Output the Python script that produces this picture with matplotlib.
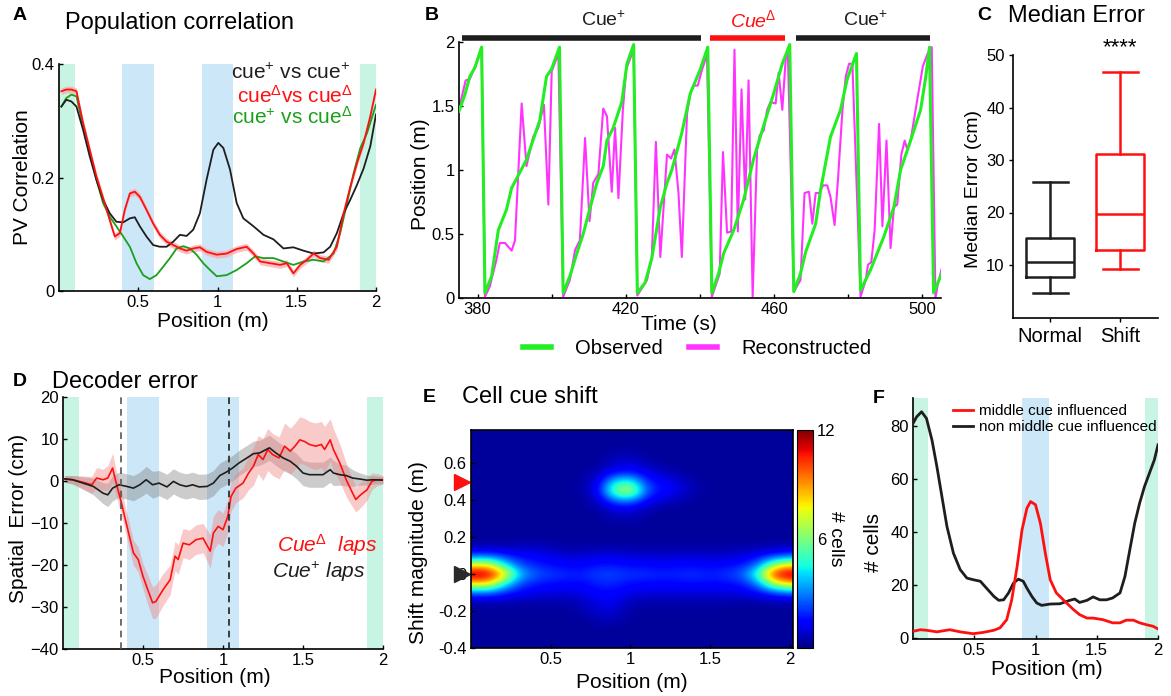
import matplotlib
matplotlib.use('Agg')
import numpy as np
import matplotlib.pyplot as plt
from matplotlib import transforms

plt.rcParams['font.family'] = ['Liberation Sans', 'DejaVu Sans']
plt.rcParams['mathtext.fontset'] = 'custom'
plt.rcParams['mathtext.rm'] = 'Liberation Sans'
plt.rcParams['mathtext.it'] = 'Liberation Sans:italic'
plt.rcParams['mathtext.bf'] = 'Liberation Sans:bold'
plt.rcParams['axes.linewidth'] = 1.2

# ---------------- data ----------------
# A: population vector correlation
a_black_x = [0.015, 0.046, 0.078, 0.11, 0.152, 0.194, 0.236, 0.278, 0.32, 0.362, 0.405, 0.447, 0.478, 0.51, 0.552,
             0.594, 0.636, 0.679, 0.721, 0.763, 0.805, 0.847, 0.889, 0.931, 0.974, 1.005, 1.037, 1.079, 1.121, 1.163,
             1.227, 1.29, 1.353, 1.416, 1.479, 1.543, 1.606, 1.669, 1.711, 1.753, 1.796, 1.838, 1.88, 1.922, 1.964, 2.0]
a_black_y = [0.325, 0.337, 0.334, 0.325, 0.284, 0.237, 0.196, 0.161, 0.137, 0.122, 0.121, 0.128, 0.130, 0.114, 0.096,
             0.081, 0.078, 0.078, 0.087, 0.099, 0.097, 0.108, 0.137, 0.196, 0.249, 0.261, 0.252, 0.214, 0.155, 0.128,
             0.114, 0.099, 0.091, 0.075, 0.077, 0.071, 0.066, 0.068, 0.078, 0.102, 0.137, 0.161, 0.187, 0.216, 0.255, 0.311]
a_red_x = [0.015, 0.046, 0.078, 0.11, 0.152, 0.194, 0.236, 0.278, 0.32, 0.352, 0.384, 0.415, 0.447, 0.478, 0.51,
           0.552, 0.594, 0.636, 0.679, 0.721, 0.763, 0.805, 0.847, 0.889, 0.931, 0.995, 1.058, 1.121, 1.184, 1.227,
           1.269, 1.332, 1.395, 1.437, 1.479, 1.522, 1.564, 1.606, 1.648, 1.701, 1.753, 1.796, 1.838, 1.88, 1.922,
           1.964, 2.0]
a_red_y = [0.352, 0.355, 0.355, 0.352, 0.296, 0.249, 0.202, 0.164, 0.125, 0.096, 0.102, 0.143, 0.172, 0.175, 0.166,
           0.143, 0.119, 0.099, 0.087, 0.081, 0.075, 0.071, 0.075, 0.077, 0.069, 0.064, 0.066, 0.074, 0.078, 0.066,
           0.052, 0.049, 0.046, 0.049, 0.031, 0.046, 0.055, 0.066, 0.058, 0.055, 0.078, 0.137, 0.184, 0.225, 0.261,
           0.308, 0.355]
a_red_sem = 0.006
a_green_x = [0.015, 0.046, 0.078, 0.11, 0.152, 0.194, 0.236, 0.278, 0.32, 0.362, 0.405, 0.447, 0.489, 0.531, 0.573,
             0.615, 0.658, 0.7, 0.742, 0.784, 0.826, 0.868, 0.91, 0.953, 0.995, 1.058, 1.121, 1.184, 1.237, 1.29,
             1.353, 1.416, 1.479, 1.543, 1.606, 1.669, 1.732, 1.774, 1.817, 1.859, 1.901, 1.943, 2.0]
a_green_y = [0.325, 0.34, 0.346, 0.343, 0.29, 0.243, 0.196, 0.155, 0.131, 0.114, 0.096, 0.078, 0.049, 0.028, 0.021,
             0.028, 0.043, 0.058, 0.075, 0.079, 0.075, 0.064, 0.049, 0.037, 0.026, 0.028, 0.037, 0.049, 0.061, 0.058,
             0.058, 0.052, 0.046, 0.052, 0.055, 0.052, 0.066, 0.102, 0.155, 0.208, 0.252, 0.278, 0.328]

# cue zones on the track (m)
end_zones = [(0.0, 0.1), (1.9, 2.0)]
mid_zones = [(0.4, 0.6), (0.9, 1.1)]

# B: observed vs reconstructed position
obs_t = [375.0, 376.6, 377.9, 379.3, 381.1, 382.0, 383.8, 385.6, 387.8, 389.2, 393.2, 396.8, 398.6, 400.0, 402.1,
         403.1, 404.9, 406.8, 408.5, 410.4, 412.2, 413.9, 414.9, 416.6, 418.9, 420.3, 422.1, 423.1, 425.2, 427.0,
         429.3, 431.1, 432.4, 435.1, 437.4, 440.0, 442.1, 443.2, 445.0, 446.4, 449.1, 451.8, 454.5, 457.2, 459.9,
         462.2, 464.2, 465.3, 467.1, 468.5, 471.2, 472.5, 475.2, 477.9, 479.7, 482.2, 483.3, 486.0, 489.6, 492.3,
         494.1, 496.8, 499.5, 500.9, 501.9, 503.0, 505.2]
obs_pos = [1.46, 1.59, 1.73, 1.80, 1.96, 0.04, 0.17, 0.53, 0.69, 0.86, 1.08, 1.39, 1.73, 1.79, 1.96,
           0.04, 0.17, 0.35, 0.50, 0.71, 0.90, 1.03, 1.23, 1.33, 1.53, 1.83, 1.98, 0.04, 0.12, 0.31,
           0.71, 0.90, 1.00, 1.29, 1.60, 1.78, 1.96, 0.04, 0.19, 0.35, 0.53, 0.77, 1.09, 1.35, 1.60,
           1.83, 1.98, 0.05, 0.19, 0.36, 0.58, 0.84, 1.26, 1.47, 1.71, 1.91, 0.06, 0.22, 0.48, 0.71,
           1.00, 1.23, 1.47, 1.73, 1.96, 0.04, 0.19]
rec_t = [375.0, 376.8, 377.9, 380.6, 381.1, 382.0, 383.3, 385.1, 386.0, 387.4, 389.2, 390.1, 391.9, 393.2, 395.0,
         396.4, 397.9, 399.1, 400.0, 401.8, 403.1, 404.9, 406.3, 407.6, 409.0, 410.2, 411.2, 412.6, 413.9, 414.9,
         416.2, 417.1, 418.0, 419.2, 420.1, 422.1, 423.1, 425.7, 427.0, 428.1, 429.3, 431.1, 432.2, 433.1, 434.2,
         435.1, 436.5, 437.4, 438.3, 439.4, 440.5, 441.9, 443.2, 445.3, 446.2, 447.3, 448.4, 449.3, 450.2, 451.2,
         452.2, 453.1, 454.2, 455.4, 456.1, 457.2, 458.1, 459.0, 460.4, 461.2, 462.2, 463.1, 463.7, 465.3, 467.1,
         468.2, 469.4, 470.3, 471.2, 472.2, 473.2, 474.3, 475.2, 476.3, 477.2, 478.4, 479.3, 480.2, 481.1, 483.3,
         484.7, 485.3, 486.2, 487.1, 488.3, 489.2, 490.3, 491.4, 492.3, 493.2, 494.3, 495.2, 495.9, 496.8, 498.6,
         500.1, 501.4, 502.5, 503.5, 504.1, 505.2]
rec_pos = [1.48, 1.70, 1.71, 1.90, 1.94, 0.01, 0.09, 0.30, 0.43, 0.43, 0.37, 0.45, 1.52, 1.03, 1.26,
           1.33, 1.51, 0.73, 1.77, 1.91, 0.01, 0.14, 0.375, 0.45, 1.25, 0.60, 0.90, 0.97, 1.48, 1.42,
           0.83, 1.33, 0.78, 1.47, 1.79, 1.94, 0.02, 0.14, 0.32, 1.22, 0.32, 1.12, 1.09, 1.16, 0.82,
           0.32, 1.44, 1.60, 1.66, 1.66, 1.78, 1.90, 0.01, 0.19, 1.14, 0.51, 0.52, 1.94, 0.52, 1.63,
           0.77, 1.70, 0.01, 1.16, 1.27, 1.31, 1.47, 1.53, 1.52, 1.76, 1.47, 1.86, 1.91, 0.05, 0.14,
           0.82, 0.83, 0.58, 0.82, 0.82, 0.88, 0.88, 0.79, 0.57, 0.92, 1.46, 1.73, 1.83, 1.83, 0.01,
           0.14, 0.26, 0.28, 0.53, 1.36, 0.56, 1.23, 0.39, 0.71, 0.73, 1.12, 1.23, 1.16, 1.23, 1.55,
           1.81, 1.91, 1.96, 0.0, 0.1, 0.23]
block_spans = [(375.7, 440.3), (442.6, 462.9), (465.8, 502.1)]
block_labels = ['Cue$^{+}$', 'Cue$^{\\Delta}$', 'Cue$^{+}$']
block_label_t = [414.0, 454.3, 484.7]

# C: median error box plots (cm)
box_names = ['Normal', 'Shift']
box_whislo = [4.7, 9.2]
box_q1 = [7.7, 12.9]
box_med = [10.6, 19.7]
box_q3 = [15.2, 31.2]
box_whishi = [25.8, 46.7]

# D: decoder spatial error (cm)
d_black_x = [0.01, 0.06, 0.125, 0.19, 0.25, 0.28, 0.31, 0.35, 0.40, 0.44, 0.48, 0.52, 0.56, 0.60, 0.65, 0.69,
             0.73, 0.77, 0.81, 0.85, 0.90, 0.94, 0.98, 1.02, 1.06, 1.10, 1.15, 1.19, 1.23, 1.27, 1.29, 1.33,
             1.375, 1.42, 1.46, 1.50, 1.54, 1.58, 1.625, 1.67, 1.69, 1.73, 1.77, 1.81, 1.85, 1.90, 1.94, 2.0]
d_black_y = [0.5, 0.3, -0.5, -1.3, -2.9, -3.3, -1.7, -0.9, -1.3, -1.7, -0.9, 0.3, -0.9, -0.5, -1.4, -0.1,
             -0.9, -1.3, -0.9, -1.4, -1.3, -0.5, 1.3, 2.1, 3.1, 4.3, 5.5, 6.5, 6.7, 7.5, 7.9, 6.7,
             5.5, 4.7, 3.5, 1.9, 1.5, 1.5, 1.5, 2.7, 1.9, 1.5, 1.3, 0.7, 0.5, 0.2, 0.3, 0.2]
d_black_sem = [0.8, 1.0, 1.5, 2.0, 2.5, 2.8, 3.0, 3.0, 3.0, 3.0, 3.0, 3.2, 3.2, 3.0, 3.0, 3.0,
               3.0, 3.0, 3.0, 3.0, 3.0, 3.0, 3.0, 3.0, 3.0, 3.0, 3.0, 3.0, 3.0, 3.0, 3.0, 3.0,
               3.0, 3.0, 3.0, 3.0, 3.0, 3.0, 3.0, 3.0, 3.0, 2.5, 2.5, 2.0, 1.5, 1.2, 1.0, 0.8]
d_red_x = [0.01, 0.06, 0.125, 0.18, 0.21, 0.25, 0.28, 0.31, 0.33, 0.365, 0.40, 0.44, 0.47, 0.50, 0.53,
           0.56, 0.58, 0.625, 0.67, 0.70, 0.72, 0.75, 0.79, 0.83, 0.875, 0.92, 0.94, 0.97, 1.0, 1.03,
           1.05, 1.08, 1.125, 1.16, 1.19, 1.22, 1.25, 1.28, 1.31, 1.35, 1.385, 1.42, 1.45, 1.48, 1.51,
           1.54, 1.58, 1.615, 1.635, 1.67, 1.69, 1.73, 1.77, 1.80, 1.83, 1.86, 1.90, 1.93, 1.96, 2.0]
d_red_y = [0.5, 0.3, -0.3, -0.9, 0.7, 0.3, 0.7, 3.1, -0.1, -5.2, -10.8, -17.1, -18.7, -22.7, -25.9,
           -29.0, -28.7, -25.9, -23.5, -17.9, -18.7, -14.8, -15.2, -14.0, -13.6, -16.7, -12.4, -10.8, -11.6, -8.4,
           -3.7, -1.7, -0.5, 1.9, 3.5, 6.3, 5.1, 7.5, 6.3, 5.5, 8.3, 7.1, 8.3, 9.8, 9.4,
           8.7, 8.3, 8.7, 7.5, 9.8, 7.5, 4.3, 0.3, -2.1, -4.4, -3.3, -2.1, -0.1, 0.3, 0.3]
d_red_sem = [0.8, 1.0, 1.5, 2.0, 2.5, 2.5, 3.0, 3.5, 3.0, 3.0, 3.0, 3.0, 3.0, 3.0, 3.5,
             3.8, 4.0, 3.8, 3.5, 3.5, 3.5, 3.5, 3.5, 3.5, 3.5, 4.0, 4.0, 4.0, 4.0, 4.0,
             3.5, 3.5, 3.5, 4.0, 4.5, 4.5, 5.0, 5.0, 5.0, 5.0, 5.5, 5.5, 5.5, 5.5, 5.5,
             5.5, 5.5, 5.5, 5.5, 5.0, 5.0, 4.5, 4.0, 3.5, 3.0, 3.0, 2.5, 2.0, 1.5, 1.0]
d_dashed_x = [0.36, 1.04]

# E: cell cue shift map (# cells); columns x = 0..2 m step 0.1, rows y = -0.4..0.8 m step 0.05
shift_pos = [0.0, 2.0]
shift_mag = [-0.4, 0.8]
shift_counts = [
    [0.3] * 21,  # -0.40
    [0.3] * 21,  # -0.35
    [0.3] * 21,  # -0.30
    [0.3, 0.3, 0.3, 0.3, 0.3, 0.3, 0.3, 0.3, 0.6, 0.6, 0.3, 0.3, 0.3, 0.3, 0.3, 0.3, 0.3, 0.3, 0.3, 0.3, 0.3],
    [0.3, 0.3, 0.3, 0.3, 0.3, 0.3, 0.3, 0.5, 0.9, 0.9, 0.4, 0.3, 0.3, 0.3, 0.3, 0.3, 0.3, 0.3, 0.3, 0.3, 0.3],
    [0.5, 0.5, 0.5, 0.5, 0.5, 0.5, 0.5, 0.7, 1.2, 1.2, 0.6, 0.5, 0.5, 0.5, 0.5, 0.5, 0.5, 0.4, 0.4, 0.5, 0.5],
    [2.5, 2.8, 2.0, 1.5, 1.2, 1.0, 1.0, 1.1, 1.5, 1.5, 1.1, 1.0, 1.0, 1.0, 1.0, 1.0, 1.0, 1.1, 1.5, 2.2, 2.7],
    [8.0, 8.5, 5.0, 2.4, 1.8, 1.6, 1.5, 1.5, 1.9, 1.9, 1.6, 1.5, 1.5, 1.5, 1.6, 1.5, 1.6, 1.8, 3.0, 7.0, 8.5],
    [12.0, 12.0, 9.0, 4.0, 2.6, 2.2, 2.0, 1.9, 2.3, 2.3, 2.1, 2.1, 1.9, 2.0, 2.1, 1.9, 2.1, 2.6, 5.0, 11.0, 12.0],
    [7.5, 8.0, 4.8, 2.4, 1.9, 1.6, 1.4, 1.4, 1.7, 1.7, 1.5, 1.5, 1.4, 1.5, 1.5, 1.4, 1.5, 1.7, 2.8, 6.5, 8.0],
    [2.3, 2.6, 2.0, 1.5, 1.4, 1.1, 0.9, 0.9, 1.1, 1.1, 0.9, 0.9, 0.8, 0.9, 0.9, 0.8, 0.9, 1.0, 1.4, 2.0, 2.5],
    [0.5, 0.5, 0.5, 0.6, 0.7, 0.5, 0.4, 0.4, 0.4, 0.4, 0.4, 0.4, 0.4, 0.4, 0.4, 0.4, 0.4, 0.4, 0.4, 0.5, 0.5],
    [0.3] * 21,  # 0.20
    [0.3] * 21,  # 0.25
    [0.3, 0.3, 0.3, 0.3, 0.3, 0.3, 0.3, 0.3, 0.3, 0.5, 0.6, 0.3, 0.3, 0.3, 0.3, 0.3, 0.3, 0.3, 0.3, 0.3, 0.3],
    [0.3, 0.3, 0.3, 0.3, 0.3, 0.3, 0.3, 0.3, 0.4, 0.9, 1.0, 0.6, 0.3, 0.3, 0.3, 0.3, 0.3, 0.3, 0.3, 0.3, 0.3],
    [0.3, 0.3, 0.3, 0.3, 0.3, 0.3, 0.3, 0.3, 0.8, 2.8, 3.2, 1.4, 0.9, 0.6, 0.3, 0.3, 0.3, 0.3, 0.3, 0.3, 0.3],
    [0.3, 0.3, 0.3, 0.3, 0.3, 0.3, 0.3, 0.4, 1.3, 6.0, 7.5, 2.5, 1.6, 1.1, 0.5, 0.3, 0.3, 0.3, 0.3, 0.3, 0.3],
    [0.3, 0.3, 0.3, 0.3, 0.3, 0.3, 0.3, 0.4, 1.1, 4.4, 5.0, 2.0, 1.4, 1.0, 0.5, 0.3, 0.3, 0.3, 0.3, 0.3, 0.3],
    [0.3, 0.3, 0.3, 0.3, 0.3, 0.3, 0.3, 0.3, 0.6, 1.5, 1.8, 1.1, 0.8, 0.4, 0.3, 0.3, 0.3, 0.3, 0.3, 0.3, 0.3],
    [0.3, 0.3, 0.3, 0.3, 0.3, 0.3, 0.3, 0.3, 0.3, 0.8, 1.0, 0.6, 0.3, 0.3, 0.3, 0.3, 0.3, 0.3, 0.3, 0.3, 0.3],
    [0.3, 0.3, 0.3, 0.3, 0.3, 0.3, 0.3, 0.3, 0.3, 0.5, 0.6, 0.3, 0.3, 0.3, 0.3, 0.3, 0.3, 0.3, 0.3, 0.3, 0.3],
    [0.3] * 21,  # 0.70
    [0.3] * 21,  # 0.75
    [0.3] * 21,  # 0.80
]
shift_markers = [0.5, 0.0]

# F: number of cells along the track
f_x = [0.0, 0.03, 0.07, 0.11, 0.155, 0.195, 0.236, 0.277, 0.33, 0.385, 0.44, 0.49, 0.55, 0.60, 0.66, 0.70,
       0.74, 0.78, 0.82, 0.86, 0.90, 0.93, 0.97, 1.01, 1.05, 1.12, 1.20, 1.28, 1.32, 1.36, 1.42, 1.47,
       1.525, 1.58, 1.63, 1.69, 1.73, 1.77, 1.81, 1.85, 1.89, 1.93, 1.97, 2.0]
f_black = [81.0, 83.5, 85.4, 82.9, 74.7, 64.7, 53.4, 42.1, 32.0, 25.8, 22.6, 22.0, 21.4, 18.8, 15.7, 14.2,
           14.4, 17.0, 20.7, 22.2, 21.4, 18.8, 15.7, 13.2, 12.3, 12.8, 12.9, 14.2, 14.7, 13.4, 14.2, 15.5,
           14.4, 14.4, 15.1, 17.0, 23.2, 33.3, 43.3, 50.9, 57.2, 62.2, 67.2, 72.9]
f_red_x = [0.0, 0.06, 0.11, 0.195, 0.30, 0.385, 0.49, 0.575, 0.66, 0.71, 0.765, 0.806, 0.85, 0.89, 0.93, 0.96,
           1.0, 1.04, 1.08, 1.12, 1.17, 1.24, 1.31, 1.36, 1.42, 1.47, 1.55, 1.63, 1.69, 1.74, 1.80, 1.85,
           1.905, 1.96, 2.0]
f_red = [2.5, 3.1, 2.9, 2.3, 3.1, 2.3, 1.6, 2.1, 2.9, 3.8, 6.9, 14.4, 27.0, 40.8, 49.0, 51.5,
         50.3, 43.3, 32.0, 22.0, 17.0, 13.8, 10.7, 8.8, 7.5, 7.5, 6.9, 5.7, 5.7, 6.7, 6.7, 5.7,
         5.0, 4.4, 3.4]
f_end_zones = [(0.0, 0.12), (1.89, 2.0)]
f_mid_zones = [(0.89, 1.11)]

# ---------------- layout ----------------
W, H = 1171, 696
END_C = '#c8f4e4'
MID_C = '#cce7f8'
BLACK = '#1e1e1e'
RED = '#ff1010'


def box(l, t, r, b):
    return [l / W, 1 - b / H, (r - l) / W, (b - t) / H]


def fx(px):
    return px / W


def fy(py):
    return 1 - py / H


def style_axes(ax, tick_dir='in'):
    ax.spines['top'].set_visible(False)
    ax.spines['right'].set_visible(False)
    ax.tick_params(direction=tick_dir, length=3, width=1, labelsize=12, pad=3)


def shade_zones(ax, ends, mids):
    for lo, hi in ends:
        ax.axvspan(lo, hi, color=END_C, lw=0, zorder=0)
    for lo, hi in mids:
        ax.axvspan(lo, hi, color=MID_C, lw=0, zorder=0)


fig = plt.figure(figsize=(W / 100, H / 100), dpi=100)

# ---------- A ----------
axA = fig.add_axes(box(59, 64, 376, 291))
style_axes(axA)
shade_zones(axA, end_zones, mid_zones)
axA.fill_between(a_red_x, np.array(a_red_y) - a_red_sem, np.array(a_red_y) + a_red_sem,
                 color='#f7a8a8', lw=0, alpha=0.7, zorder=1)
axA.plot(a_green_x, a_green_y, color='#1aa01a', lw=1.3, zorder=2)
axA.plot(a_black_x, a_black_y, color=BLACK, lw=1.3, zorder=3)
axA.plot(a_red_x, a_red_y, color=RED, lw=1.3, zorder=4)
axA.set_xlim(0, 2)
axA.set_ylim(0, 0.4)
axA.set_xticks([0.5, 1, 1.5, 2], ['0.5', '1', '1.5', '2'])
axA.set_yticks([0, 0.2, 0.4], ['0', '0.2', '0.4'])
axA.set_xlabel('Position (m)', fontsize=15, va='top')
axA.set_ylabel('PV Correlation', fontsize=15)
axA.xaxis.set_label_coords(0.486, -0.092)
axA.yaxis.set_label_coords(-0.085, 0.5)
fig.text(fx(350), fy(73), 'cue$^{+}$ vs cue$^{+}$', ha='right', va='center', fontsize=15, color=BLACK)
fig.text(fx(353), fy(96), 'cue$^{\\Delta}$vs cue$^{\\Delta}$', ha='right', va='center', fontsize=15, color=RED)
fig.text(fx(353), fy(117), 'cue$^{+}$ vs cue$^{\\Delta}$', ha='right', va='center', fontsize=15, color='#1aa01a')
fig.text(fx(13), fy(15), 'A', fontsize=14, fontweight='bold', va='center')
fig.text(fx(65), fy(23), 'Population correlation', fontsize=17, va='center')

# ---------- B ----------
axB = fig.add_axes(box(459, 42, 941, 298))
style_axes(axB)
axB.plot(rec_t, rec_pos, color='#ff33ff', lw=1.5, zorder=2)
axB.plot(obs_t, obs_pos, color='#22ee22', lw=2.2, zorder=3)
axB.set_xlim(375, 505)
axB.set_ylim(0, 2)
axB.set_xticks([380, 420, 460, 500])
axB.set_xticks([400, 440, 480], minor=True)
axB.tick_params(which='minor', direction='in', length=3, width=1)
axB.set_yticks([0, 0.5, 1, 1.5, 2], ['0', '0.5', '1', '1.5', '2'])
axB.set_xlabel('Time (s)', fontsize=15, va='top')
axB.set_ylabel('Position (m)', fontsize=15)
axB.xaxis.set_label_coords(0.457, -0.066)
axB.yaxis.set_label_coords(-0.06, 0.484)
trB = transforms.blended_transform_factory(axB.transData, axB.transAxes)
for (t0, t1), lab, tl, c in zip(block_spans, block_labels, block_label_t, [BLACK, RED, BLACK]):
    axB.plot([t0, t1], [1.017, 1.017], transform=trB, color=c, lw=4, clip_on=False,
             solid_capstyle='butt')
    axB.text(tl, 1.086, lab, transform=trB, ha='center', va='center', fontsize=14, color=c,
             fontstyle='italic' if c == RED else 'normal')
legB = fig.legend(handles=[plt.Line2D([], [], color='#22ee22', lw=4),
                           plt.Line2D([], [], color='#ff33ff', lw=4)],
                  labels=['Observed', 'Reconstructed'], loc='center', ncol=2,
                  bbox_to_anchor=(fx(697), fy(349)), frameon=False, fontsize=14.5,
                  handlelength=1.4, handletextpad=1.2, columnspacing=1.3, borderpad=0)
fig.text(fx(425), fy(15), 'B', fontsize=14, fontweight='bold', va='center')

# ---------- C ----------
axC = fig.add_axes(box(1013, 55, 1158, 317.5))
style_axes(axC, tick_dir='out')
stats = []
for i in range(len(box_names)):
    stats.append({'med': box_med[i], 'q1': box_q1[i], 'q3': box_q3[i],
                  'whislo': box_whislo[i], 'whishi': box_whishi[i], 'fliers': []})
for i, c in enumerate([BLACK, RED]):
    lp = dict(color=c, lw=1.8)
    axC.bxp([stats[i]], positions=[i + 1], widths=0.69, capwidths=0.5, showfliers=False,
            boxprops=lp, medianprops=lp, whiskerprops=lp, capprops=lp)
axC.set_xlim(0.47, 2.54)
axC.set_ylim(0, 50)
axC.set_yticks([10, 20, 30, 40, 50])
axC.set_xticks([1, 2], box_names)
axC.tick_params(axis='x', labelsize=14.5, pad=4)
axC.set_ylabel('Median Error (cm)', fontsize=14)
axC.yaxis.set_label_coords(-0.214, 0.49)
axC.text(2, 51.3, '****', ha='center', va='center', fontsize=16, clip_on=False)
fig.text(fx(977), fy(15), 'C', fontsize=14, fontweight='bold', va='center')
fig.text(fx(1008), fy(16), 'Median Error', fontsize=17, va='center')

# ---------- D ----------
axD = fig.add_axes(box(63, 397, 383, 649))
style_axes(axD)
shade_zones(axD, end_zones, mid_zones)
axD.fill_between(d_black_x, np.array(d_black_y) - d_black_sem, np.array(d_black_y) + d_black_sem,
                 color='#808080', alpha=0.4, lw=0, zorder=1)
axD.fill_between(d_red_x, np.array(d_red_y) - d_red_sem, np.array(d_red_y) + d_red_sem,
                 color='#f07c7c', alpha=0.4, lw=0, zorder=1)
axD.plot(d_red_x, d_red_y, color=RED, lw=1.2, zorder=3)
axD.plot(d_black_x, d_black_y, color=BLACK, lw=1.2, zorder=3)
for xd, c in zip(d_dashed_x, ['#555555', '#222222']):
    axD.axvline(xd, color=c, lw=1.2, ls=(0, (4, 3)), zorder=4)
axD.set_xlim(0, 2)
axD.set_ylim(-40, 20)
axD.set_xticks([0.5, 1, 1.5, 2], ['0.5', '1', '1.5', '2'])
axD.set_yticks([-40, -30, -20, -10, 0, 10, 20])
axD.set_xlabel('Position (m)', fontsize=15, va='top')
axD.set_ylabel('Spatial  Error (cm)', fontsize=15)
axD.xaxis.set_label_coords(0.475, -0.074)
axD.yaxis.set_label_coords(-0.109, 0.52)
fig.text(fx(277), fy(545), 'Cue$^{\\Delta}$  laps', color=RED, fontsize=15, fontstyle='italic', va='center')
fig.text(fx(272), fy(572), 'Cue$^{+}$ laps', color=BLACK, fontsize=15, fontstyle='italic', va='center')
fig.text(fx(13), fy(381), 'D', fontsize=14, fontweight='bold', va='center')
fig.text(fx(52), fy(382), 'Decoder error', fontsize=17, va='center')

# ---------- E ----------
axE = fig.add_axes(box(471, 430, 793, 648))
axE.tick_params(direction='in', length=3, width=1, labelsize=12, pad=3)
im = axE.imshow(np.array(shift_counts), origin='lower', cmap='jet', vmin=0, vmax=12,
                interpolation='bicubic', aspect='auto',
                extent=[shift_pos[0] - 0.05, shift_pos[1] + 0.05, shift_mag[0] - 0.025, shift_mag[1] + 0.025])
axE.set_xlim(0, 2.02)
axE.set_ylim(-0.4, 0.78)
axE.set_xticks([0.5, 1, 1.5, 2], ['0.5', '1', '1.5', '2'])
axE.set_yticks([-0.4, -0.2, 0, 0.2, 0.4, 0.6], ['-0.4', '-0.2', '0', '0.2', '0.4', '0.6'])
axE.set_xlabel('Position (m)', fontsize=15, va='top')
axE.set_ylabel('Shift magnitude (m)', fontsize=15)
axE.xaxis.set_label_coords(0.5, -0.115)
axE.yaxis.set_label_coords(-0.134, 0.436)
trE = transforms.blended_transform_factory(axE.transAxes, axE.transData)
for ym, c in zip(shift_markers, [RED, '#2a2a2a']):
    axE.plot([-0.028], [ym], marker='>', ms=11, color=c, transform=trE, clip_on=False, ls='none')
cax = fig.add_axes(box(797, 430, 813, 648))
cb = fig.colorbar(im, cax=cax, ticks=[6, 12])
cb.outline.set_linewidth(0.8)
cax.tick_params(length=0, labelsize=12, pad=3)
cb.set_label('# cells', fontsize=14, rotation=270, labelpad=6)
fig.text(fx(423), fy(397), 'E', fontsize=14, fontweight='bold', va='center')
fig.text(fx(462), fy(397), 'Cell cue shift', fontsize=17, va='center')

# ---------- F ----------
axF = fig.add_axes(box(913, 398, 1158, 639))
style_axes(axF)
shade_zones(axF, f_end_zones, f_mid_zones)
axF.plot(f_x, f_black, color=BLACK, lw=2, label='non middle cue influenced', zorder=3)
axF.plot(f_red_x, f_red, color=RED, lw=2, label='middle cue influenced', zorder=3)
axF.set_xlim(0, 2)
axF.set_ylim(-0.4, 90.6)
axF.set_xticks([0.5, 1, 1.5, 2], ['0.5', '1', '1.5', '2'])
axF.set_yticks([0, 20, 40, 60, 80])
axF.set_xlabel('Position (m)', fontsize=15, va='top')
axF.set_ylabel('# cells', fontsize=15)
axF.xaxis.set_label_coords(0.547, -0.087)
axF.yaxis.set_label_coords(-0.122, 0.40)
h, l = axF.get_legend_handles_labels()
axF.legend(h[::-1], l[::-1], loc='upper left', bbox_to_anchor=(fx(953), fy(404)),
           bbox_transform=fig.transFigure, frameon=False, fontsize=11, handlelength=1.3,
           handletextpad=0.4, borderpad=0, borderaxespad=0, labelspacing=0.15)
fig.text(fx(873), fy(398), 'F', fontsize=14, fontweight='bold', va='center')

fig.savefig('out.png', dpi=100)
